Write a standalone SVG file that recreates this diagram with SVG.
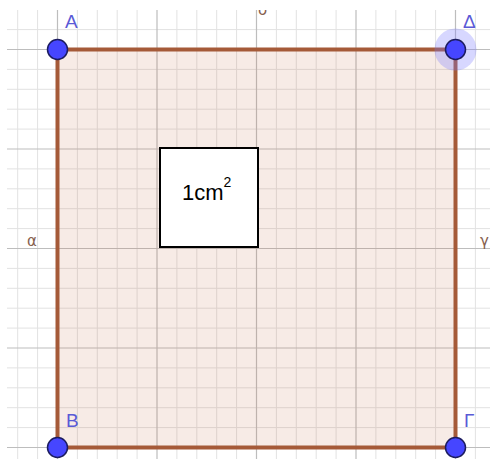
<svg xmlns="http://www.w3.org/2000/svg" width="490" height="459" viewBox="0 0 490 459">
<style>
.minor{stroke:#e2e2e2;stroke-width:1;fill:none}
.major{stroke:#bdbdbd;stroke-width:1.2;fill:none}
.pt{fill:#4646ff;stroke:#1c1c60;stroke-width:1.5}
.lbl{font-family:"Liberation Sans",Arial,sans-serif;font-size:19px;fill:#5a5ad6}
.lnl{font-family:"DejaVu Sans","Liberation Sans",sans-serif;font-size:15px;fill:#86604e}
</style>
<defs>
<clipPath id="view"><rect x="7" y="10" width="483" height="449"/></clipPath>
</defs>
<rect width="490" height="459" fill="#ffffff"/>
<g id="grid" clip-path="url(#view)">
<path class="minor" d="M17.7 0V459M37.6 0V459M77.4 0V459M97.3 0V459M117.2 0V459M137.1 0V459M176.9 0V459M196.8 0V459M216.7 0V459M236.6 0V459M276.4 0V459M296.3 0V459M316.2 0V459M336.1 0V459M375.9 0V459M395.8 0V459M415.7 0V459M435.6 0V459M475.4 0V459M0 29.6H490M0 69.4H490M0 89.3H490M0 109.2H490M0 129.1H490M0 168.9H490M0 188.8H490M0 208.7H490M0 228.6H490M0 268.4H490M0 288.3H490M0 308.2H490M0 328.1H490M0 367.9H490M0 387.8H490M0 407.7H490M0 427.6H490"/>
<path class="major" d="M57.5 0V459M157 0V459M256.5 0V459M356 0V459M455.5 0V459M0 49.5H490M0 149H490M0 248.5H490M0 348H490M0 447.5H490"/>
<text class="lnl" x="258" y="15">δ</text>
<text class="lnl" x="27" y="246">α</text>
</g>
<text id="gamma" class="lnl" x="480" y="246">γ</text>
<g id="square">
<rect x="57.5" y="49.5" width="398" height="398" fill="#c8704c" fill-opacity="0.14" stroke="#a55a38" stroke-width="4"/>
</g>
<g id="unit">
<rect x="160" y="148" width="98" height="99" fill="#ffffff" stroke="#000000" stroke-width="2"/>
<text x="182" y="200" font-family="Liberation Sans,Arial,sans-serif" font-size="22" fill="#000000">1cm<tspan font-size="14" dy="-13">2</tspan></text>
</g>
<g id="A"><circle class="pt" cx="57.5" cy="49.5" r="10"/><text class="lbl" x="65" y="28">A</text></g>
<g id="D"><circle cx="455.5" cy="49.5" r="21" fill="#7a7aff" fill-opacity="0.3"/><circle class="pt" cx="455.5" cy="49.5" r="10"/><text class="lbl" x="463" y="28">Δ</text></g>
<g id="B"><circle class="pt" cx="57.5" cy="447.5" r="10"/><text class="lbl" x="66" y="427">B</text></g>
<g id="G"><circle class="pt" cx="455.5" cy="447.5" r="10"/><text class="lbl" x="464" y="427">Γ</text></g>
</svg>
